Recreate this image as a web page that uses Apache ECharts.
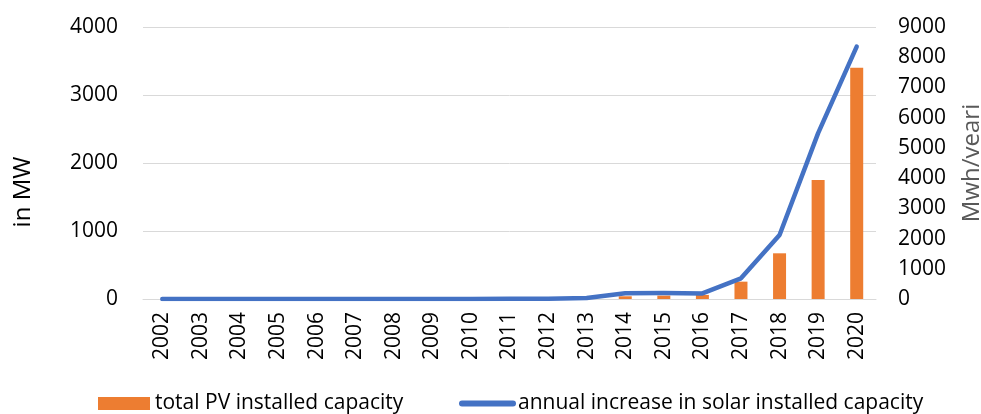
<!DOCTYPE html>
<html>
<head>
<meta charset="utf-8">
<script src="https://cdn.jsdelivr.net/npm/echarts@6/dist/echarts.min.js"></script>
<style>
  html, body { margin: 0; padding: 0; background: #fff; }
  #chart { width: 981px; height: 414px; }
</style>
</head>
<body>
<div id="chart"></div>
<script>
// Years on the category axis
const years = ['2002','2003','2004','2005','2006','2007','2008','2009','2010','2011',
               '2012','2013','2014','2015','2016','2017','2018','2019','2020'];
// Total PV installed capacity, MW (left axis)
const totalCapacity = [0, 0, 0, 0, 0, 0, 0, 0, 0, 0, 0, 5, 40, 50, 60, 255, 672, 1750, 3400];
// Annual increase in solar installed capacity, Mwh/year (right axis)
const annualIncrease = [0, 0, 0, 0, 0, 0, 0, 0, 0, 10, 10, 30, 190, 200, 185, 685, 2120, 5490, 8350];
// Tick ranges
const leftTicks = { min: 0, max: 4000, interval: 1000 };
const rightTicks = { min: 0, max: 9000, interval: 1000 };

const FONT = 'Open Sans';
const plain = v => String(v);
const BAR_NAME = 'total PV installed capacity';
const LINE_NAME = 'annual increase in solar installed capacity';
const chart = echarts.init(document.getElementById('chart'), null, { renderer: 'canvas' });

const legendText = { fontFamily: FONT, fontSize: 21, color: '#000' };

chart.setOption({
  animation: false,
  textStyle: { fontFamily: FONT },
  grid: { left: 143, right: 105, top: 27, bottom: 115, containLabel: false, outerBoundsMode: 'none' },
  legend: [
    {
      left: 98, top: 393, padding: 0,
      itemWidth: 52, itemHeight: 13,
      textStyle: legendText,
      data: [{ name: BAR_NAME, icon: 'rect' }]
    },
    {
      left: 459, top: 393, padding: 0,
      itemWidth: 57, itemHeight: 13,
      textStyle: Object.assign({}, legendText, { padding: [0, 0, 0, -3] }),
      data: [{
        name: LINE_NAME,
        icon: 'path://M3,0 H54 A3,3 0 0 1 54,6 H3 A3,3 0 0 1 3,0 Z'
      }]
    }
  ],
  xAxis: {
    type: 'category',
    data: years,
    axisLine: { lineStyle: { color: '#d9d9d9', width: 1 } },
    axisTick: { show: false },
    axisLabel: { rotate: 90, fontSize: 21, color: '#000', margin: 13, fontFamily: FONT, interval: 0 }
  },
  yAxis: [
    {
      type: 'value',
      min: leftTicks.min, max: leftTicks.max, interval: leftTicks.interval,
      name: 'in MW',
      nameLocation: 'middle',
      nameGap: 108,
      nameRotate: 90,
      nameTextStyle: { fontSize: 24, color: '#000', fontFamily: FONT, padding: [0, 58, 0, 0] },
      axisLine: { show: false },
      axisTick: { show: false },
      axisLabel: { fontSize: 21, color: '#000', margin: 25, fontFamily: FONT, formatter: plain },
      splitLine: { lineStyle: { color: '#d9d9d9', width: 1 } }
    },
    {
      type: 'value',
      min: rightTicks.min, max: rightTicks.max, interval: rightTicks.interval,
      name: 'Mwh/veari',
      nameLocation: 'middle',
      nameGap: 84,
      nameRotate: 90,
      nameTextStyle: { fontSize: 24, color: '#595959', fontFamily: FONT },
      axisLine: { show: false },
      axisTick: { show: false },
      axisLabel: { fontSize: 21, color: '#000', margin: 22, fontFamily: FONT, formatter: plain },
      splitLine: { show: false }
    }
  ],
  series: [
    {
      name: BAR_NAME,
      type: 'bar',
      yAxisIndex: 0,
      data: totalCapacity,
      barWidth: 13,
      itemStyle: { color: '#ED7D31' }
    },
    {
      name: LINE_NAME,
      type: 'line',
      yAxisIndex: 1,
      data: annualIncrease,
      symbol: 'none',
      lineStyle: { color: '#4472C4', width: 4.5, cap: 'round', join: 'round' },
      itemStyle: { color: '#4472C4' }
    }
  ]
});
</script>
</body>
</html>
